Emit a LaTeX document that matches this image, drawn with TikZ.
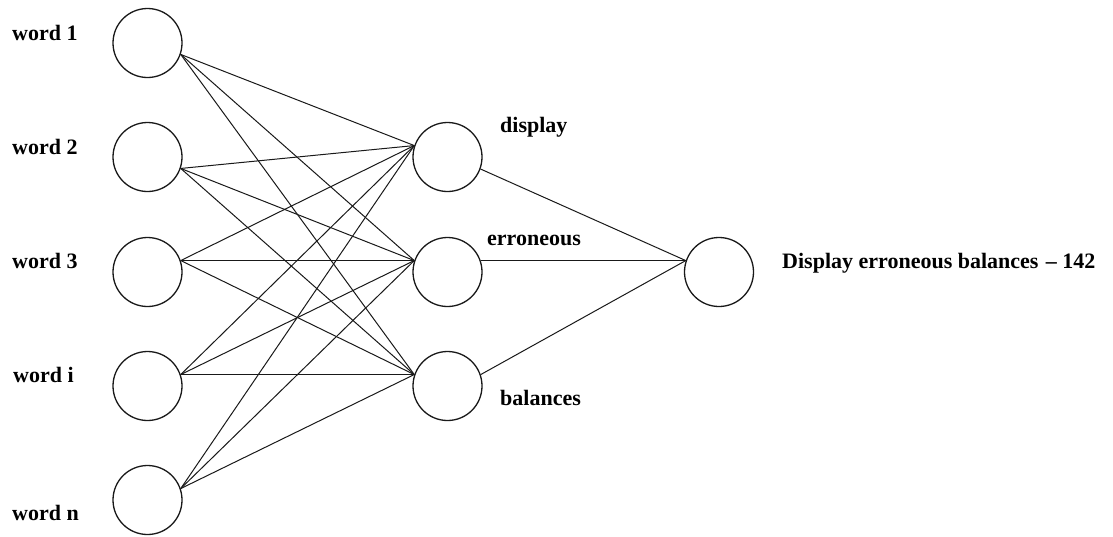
\documentclass[tikz,border=0pt]{standalone}
\usepackage{fontspec}
\setmainfont{Liberation Serif}
\begin{document}
\begin{tikzpicture}[x=1pt,y=-1pt,
  neuron/.style={circle,draw=black!90,line width=1.3pt,minimum size=69pt,inner sep=0pt,fill=white},
  link/.style={draw=black!90,line width=1pt},
  lbl/.style={anchor=base west,inner sep=0pt,font=\bfseries\fontsize{22}{26}\selectfont}]
\useasboundingbox (0,0) rectangle (1113,536);

% input layer
\node[neuron] (w1) at (147.5,43) {};
\node[neuron] (w2) at (147.5,157) {};
\node[neuron] (w3) at (147.5,272) {};
\node[neuron] (wi) at (147.5,386) {};
\node[neuron] (wn) at (147.5,500) {};

% hidden layer
\node[neuron] (hd) at (447.5,157) {};
\node[neuron] (he) at (447.5,272) {};
\node[neuron] (hb) at (447.5,386) {};

% output
\node[neuron] (out) at (719,272) {};

% labels
\node[lbl] (lw1) at (12,40) {word 1};
\node[lbl] (lw2) at (12,154) {word 2};
\node[lbl] (lw3) at (12,268) {word 3};
\node[lbl] (lwi) at (13,382) {word i};
\node[lbl] (lwn) at (12,520) {word n};
\node[lbl] (lhd) at (500,132) {display};
\node[lbl] (lhe) at (487,245) {erroneous};
\node[lbl] (lhb) at (500,405) {balances};
\node[lbl] (lout) at (782,268) {Display erroneous balances\hspace{2pt} -- 142};

% input -> hidden
\foreach \w/\a in {w1/-19,w2/-19,w3/19,wi/19,wn/19}{
  \foreach \h in {hd,he,hb}{
    \draw[link] (\w.\a) -- (\h.161);
  }
}

% hidden -> output
\draw[link] (hd.-20) -- (out.161);
\draw[link] (he.19) -- (out.161);
\draw[link] (hb.19) -- (out.161);
\end{tikzpicture}
\end{document}
